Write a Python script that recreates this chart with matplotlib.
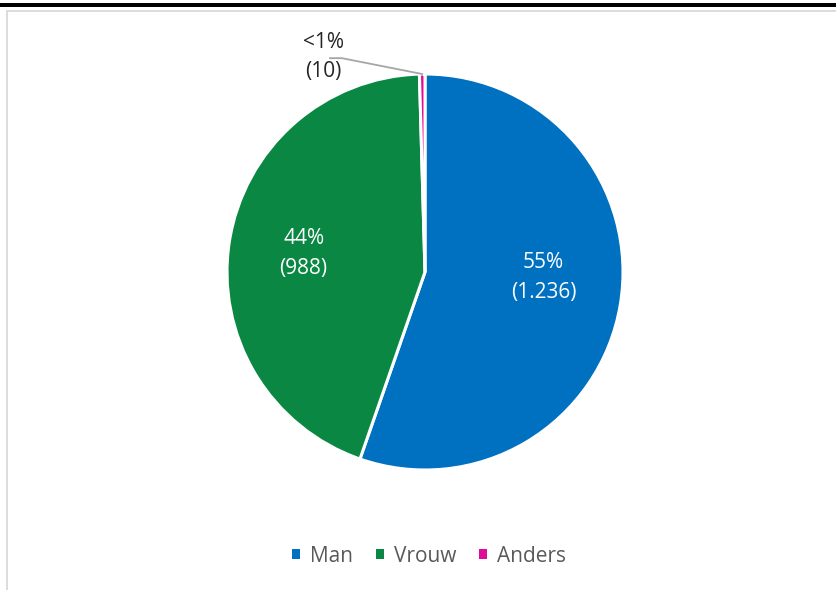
import numpy as np
import matplotlib
matplotlib.use("Agg")
import matplotlib.pyplot as plt
from matplotlib.patches import Patch, Rectangle

plt.rcParams['font.family'] = ['Open Sans', 'DejaVu Sans']

# data
categories = ['Man', 'Vrouw', 'Anders']
counts = [1236, 988, 10]
pct_labels = ['55%', '44%', '<1%']
count_labels = ['(1.236)', '(988)', '(10)']
colors = ['#0070C0', '#0A8843', '#DE0C98']

W, H = 836, 590
fig = plt.figure(figsize=(W / 100, H / 100), dpi=100)

# frame: black bar on top + light grey border
fig.patches.append(Rectangle((0, 1 - 7 / H), 1, 4 / H, transform=fig.transFigure,
                             facecolor='black', edgecolor='none', zorder=0))
fig.patches.append(Rectangle((7 / W, -0.05), 1.1, 1 - 11 / H + 0.05, transform=fig.transFigure,
                             facecolor='none', edgecolor='#D9D9D9', linewidth=1.3, zorder=0))

cx, cy, r = 425, 272, 198
ax = fig.add_axes([(cx - r) / W, (H - cy - r) / H, 2 * r / W, 2 * r / H])
wedges, _ = ax.pie(counts, colors=colors, startangle=90, counterclock=False,
                   wedgeprops=dict(edgecolor='white', linewidth=2.2))
ax.set_xlim(-1, 1)
ax.set_ylim(-1, 1)
ax.set_aspect('equal')
ax.axis('off')

# inner labels
label_dist = [0.6, 0.62]
label_adj = [7, 0]   # degrees, Excel places them slightly differently
for i in range(2):
    w = wedges[i]
    ang = np.deg2rad((w.theta1 + w.theta2) / 2 + label_adj[i])
    ax.text(label_dist[i] * np.cos(ang), label_dist[i] * np.sin(ang),
            pct_labels[i] + '\n' + count_labels[i], color='white', fontsize=15,
            ha='center', va='center', linespacing=1.55)

# small wedge label with leader line
w = wedges[2]
ang = np.deg2rad((w.theta1 + w.theta2) / 2)
x0, y0 = np.cos(ang), np.sin(ang)
ax.plot([x0, -0.42, -0.48], [y0, 1.08, 1.08], color='#A6A6A6', lw=1.3, clip_on=False)
ax.text(-0.515, 1.086, pct_labels[2] + '\n' + count_labels[2], color='#262626', fontsize=15,
        ha='center', va='center', linespacing=1.55)

handles = [Patch(facecolor=c, edgecolor='none') for c in colors]
fig.legend(handles, categories, loc='center', bbox_to_anchor=(429 / W, 1 - 556 / H),
           ncol=3, frameon=False, fontsize=15, handlelength=0.38, handleheight=0.38,
           handletextpad=0.48, columnspacing=1.1, labelcolor='#595959')

fig.savefig('out.png', dpi=100)
